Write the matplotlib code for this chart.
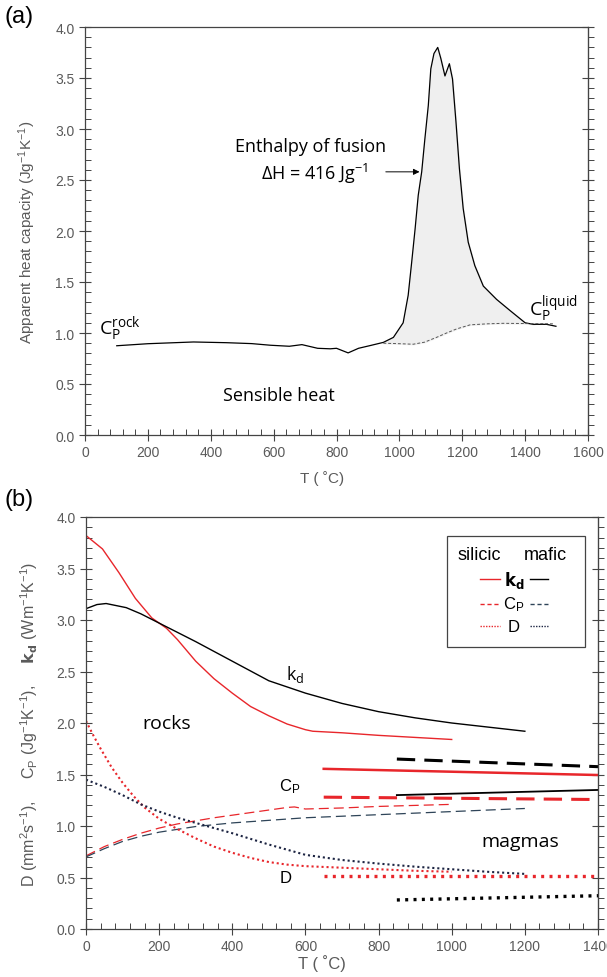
import numpy as np
import matplotlib
matplotlib.use("Agg")
import matplotlib.pyplot as plt
from matplotlib.ticker import MultipleLocator

plt.rcParams["font.family"] = ["Liberation Sans", "DejaVu Sans"]
plt.rcParams["mathtext.default"] = "regular"

# ---- panel (a): DSC curve ----
T_a = [101, 200, 345, 450, 530, 590, 650, 690, 740, 780, 800, 837, 870, 906, 949,
       981, 1012, 1028, 1039, 1050, 1060, 1071, 1081, 1092, 1100, 1110, 1122, 1132,
       1145, 1159, 1169, 1180, 1191, 1203, 1219, 1240, 1267, 1309, 1352, 1400, 1426,
       1468, 1498]
cp_a = [0.875, 0.895, 0.912, 0.905, 0.896, 0.88, 0.87, 0.886, 0.85, 0.845, 0.85, 0.805,
        0.85, 0.876, 0.908, 0.957, 1.10, 1.37, 1.69, 2.02, 2.35, 2.58, 2.90, 3.23, 3.59,
        3.74, 3.80, 3.69, 3.52, 3.64, 3.49, 3.07, 2.61, 2.22, 1.89, 1.66, 1.46, 1.33,
        1.22, 1.10, 1.085, 1.085, 1.066]
T_base = [949, 1000, 1044, 1080, 1118, 1150, 1182, 1225, 1280, 1330, 1490]
cp_base = [0.90, 0.895, 0.89, 0.91, 0.957, 1.0, 1.04, 1.08, 1.09, 1.095, 1.09]

# ---- panel (b): rocks ----
T_kd_sil = [0, 45, 90, 135, 180, 220, 250, 300, 350, 400, 450, 500, 550, 600, 620, 700, 800, 900, 1000]
kd_sil = [3.82, 3.69, 3.46, 3.21, 3.02, 2.92, 2.81, 2.60, 2.43, 2.29, 2.16, 2.07, 1.99, 1.935, 1.92, 1.905, 1.88, 1.86, 1.84]
T_kd_maf = [0, 30, 55, 110, 150, 200, 250, 300, 400, 500, 600, 700, 800, 900, 1000, 1100, 1200]
kd_maf = [3.11, 3.15, 3.16, 3.12, 3.06, 2.97, 2.88, 2.79, 2.60, 2.41, 2.29, 2.19, 2.11, 2.05, 2.00, 1.96, 1.92]
T_cp_sil = [0, 50, 100, 150, 200, 250, 300, 350, 400, 450, 500, 550, 570, 600, 650, 700, 800, 900, 1000]
cp_sil = [0.71, 0.80, 0.87, 0.93, 0.98, 1.02, 1.05, 1.08, 1.105, 1.13, 1.155, 1.18, 1.185, 1.165, 1.17, 1.175, 1.19, 1.20, 1.21]
T_cp_maf = [0, 50, 100, 150, 200, 300, 400, 500, 600, 700, 800, 900, 1000, 1100, 1200]
cp_maf = [0.70, 0.78, 0.85, 0.90, 0.94, 0.995, 1.03, 1.055, 1.08, 1.095, 1.11, 1.125, 1.14, 1.155, 1.17]
T_D_sil = [0, 20, 40, 70, 100, 130, 160, 200, 250, 300, 350, 400, 450, 500, 550, 600, 700, 800, 900, 1000]
D_sil = [2.02, 1.88, 1.75, 1.57, 1.42, 1.29, 1.18, 1.07, 0.97, 0.88, 0.80, 0.74, 0.69, 0.65, 0.625, 0.61, 0.595, 0.58, 0.565, 0.556]
T_D_maf = [0, 50, 100, 150, 200, 250, 300, 400, 500, 600, 700, 800, 900, 1000, 1100, 1200]
D_maf = [1.45, 1.38, 1.30, 1.21, 1.14, 1.08, 1.03, 0.93, 0.82, 0.72, 0.67, 0.635, 0.605, 0.58, 0.555, 0.535]

# ---- panel (b): magmas ----
T_mag_sil = [650, 1400]
T_mag_maf = [850, 1400]
kd_mag_sil = [1.555, 1.495]
kd_mag_maf = [1.30, 1.35]
cp_mag_sil = [1.28, 1.257]
cp_mag_maf = [1.65, 1.576]
D_mag_sil = [0.518, 0.518]
D_mag_maf = [0.282, 0.323]

RED = "#e8262b"
GRAY = "#5a5a5a"
SLATE = "#2e4458"
NAVY = "#1c2442"
ANN = ["Open Sans", "DejaVu Sans"]

fig = plt.figure(figsize=(6.07, 9.78), dpi=100)
ax1 = fig.add_axes([85 / 607, 1 - 436 / 978, 503 / 607, 408 / 978])
ax2 = fig.add_axes([86 / 607, 1 - 930 / 978, 512 / 607, 412 / 978])


def style(ax, xmax):
    for s in ax.spines.values():
        s.set_color("#444444")
        s.set_linewidth(0.9)
    ax.set_ylim(0, 4)
    ax.set_xlim(0, xmax)
    ax.yaxis.set_major_locator(MultipleLocator(0.5))
    ax.yaxis.set_minor_locator(MultipleLocator(0.1))
    ax.xaxis.set_major_locator(MultipleLocator(200))
    ax.xaxis.set_minor_locator(MultipleLocator(40))
    ax.yaxis.set_major_formatter(matplotlib.ticker.FormatStrFormatter("%.1f"))
    ax.xaxis.set_major_formatter(matplotlib.ticker.FormatStrFormatter("%d"))
    ax.tick_params(which="major", direction="inout", length=8, width=0.8,
                   color="#444444", labelcolor=GRAY, labelsize=10, top=False)
    ax.tick_params(which="minor", direction="in", length=4, width=0.7,
                   color="#444444", top=False)
    sec = ax.secondary_yaxis("right")
    sec.yaxis.set_major_locator(MultipleLocator(0.5))
    sec.yaxis.set_minor_locator(MultipleLocator(0.1))
    sec.tick_params(which="major", direction="inout", length=8, width=0.8,
                    color="#444444", labelright=False)
    sec.tick_params(which="minor", direction="out", length=4, width=0.7,
                    color="#444444")
    sec.spines["right"].set_color("#444444")


# ---- (a) ----
style(ax1, 1600)
ax1.plot(T_a, cp_a, color="black", lw=0.9)
ax1.plot(T_base, cp_base, color="#555555", lw=0.7, ls=(0, (3, 2)))
grid = np.linspace(949, 1430, 400)
ax1.fill_between(grid, np.interp(grid, T_base, cp_base), np.interp(grid, T_a, cp_a),
                 color="#efefef", zorder=0)
ax1.set_xlabel("T ( ˚C)", color=GRAY, fontsize=11)
ax1.xaxis.set_label_coords((322 - 85) / 503, -0.085)
ax1.set_ylabel("Apparent heat capacity (Jg$^{-1}$K$^{-1}$)", color=GRAY, fontsize=11)
ax1.yaxis.set_label_coords(-0.093, 0.5)

ax1.text(716, 2.83, "Enthalpy of fusion", family=ANN, fontsize=13, ha="center", va="center")
ax1.text(731, 2.57, "ΔH = 416 Jg$^{-1}$", family=ANN, fontsize=13, ha="center", va="center")
ax1.annotate("", xy=(1073, 2.58), xytext=(948, 2.58),
             arrowprops=dict(arrowstyle="-|>", color="black", lw=0.7, mutation_scale=9))
ax1.text(617, 0.39, "Sensible heat", family=ANN, fontsize=13, ha="center", va="center")
ax1.text(45, 1.05, "C$_P^{rock}$", family=ANN, fontsize=14, ha="left", va="center")
ax1.text(1412, 1.25, "C$_P^{liquid}$", family=ANN, fontsize=14, ha="left", va="center")

# ---- (b) ----
style(ax2, 1400)
ax2.plot(T_kd_sil, kd_sil, color=RED, lw=1.0)
ax2.plot(T_kd_maf, kd_maf, color="black", lw=1.0)
ax2.plot(T_cp_sil, cp_sil, color=RED, lw=0.9, ls=(0, (8, 4)))
ax2.plot(T_cp_maf, cp_maf, color=SLATE, lw=0.9, ls=(0, (8, 4)))
ax2.plot(T_D_sil, D_sil, color=RED, lw=1.5, ls=(0, (1, 1.4)))
ax2.plot(T_D_maf, D_maf, color=NAVY, lw=1.5, ls=(0, (1, 1.4)))

ax2.plot(T_mag_sil, kd_mag_sil, color=RED, lw=1.8)
ax2.plot(T_mag_maf, kd_mag_maf, color="black", lw=1.3)
ax2.plot(T_mag_sil, cp_mag_sil, color=RED, lw=2.2, ls=(0, (6, 3)))
ax2.plot(T_mag_maf, cp_mag_maf, color="black", lw=2.2, ls=(0, (6, 3)))
ax2.plot(T_mag_sil, D_mag_sil, color=RED, lw=2.4, ls=(0, (0.9, 1.6)))
ax2.plot(T_mag_maf, D_mag_maf, color="black", lw=2.4, ls=(0, (0.9, 1.6)))

ax2.set_xlabel("T ( ˚C)", color=GRAY, fontsize=12)
ax2.xaxis.set_label_coords((322 - 86) / 512, -0.06)
ax2.set_ylabel("D (mm$^2$s$^{-1}$),     C$_P$ (Jg$^{-1}$K$^{-1}$),     "
               "$\\mathbf{k_d}$ (Wm$^{-1}$K$^{-1}$)", color=GRAY, fontsize=11.5)
ax2.yaxis.set_label_coords(-0.09, 0.50)

ax2.text(221, 2.0, "rocks", family=ANN, fontsize=14, ha="center", va="center")
ax2.text(1187, 0.85, "magmas", family=ANN, fontsize=14, ha="center", va="center")
ax2.text(572, 2.48, "k$_d$", family=ANN, fontsize=13, ha="center", va="center")
ax2.text(558, 1.39, "C$_P$", fontsize=12, ha="center", va="center")
ax2.text(547, 0.50, "D", fontsize=12, ha="center", va="center")

# manual two-column legend
tr = ax2.transAxes
ax2.add_patch(plt.Rectangle((0.7045, 0.6837), 0.2701, 0.2709, transform=tr,
                            fill=False, ec="#444444", lw=0.9))
ax2.text(0.768, 0.908, "silicic", transform=tr, fontsize=13, ha="center", va="center")
ax2.text(0.897, 0.908, "mafic", transform=tr, fontsize=13, ha="center", va="center")
rows = [(0.8495, "$\\mathbf{k_d}$", "-", "-", RED, "black"),
        (0.789, "C$_P$", (0, (3, 2)), (0, (3, 2)), RED, SLATE),
        (0.7354, "D", (0, (1, 1)), (0, (1, 1)), RED, NAVY)]
for y, lab, ls1, ls2, c1, c2 in rows:
    ax2.plot([0.7695, 0.8086], [y, y], transform=tr, color=c1, lw=1.0, ls=ls1)
    ax2.plot([0.867, 0.902], [y, y], transform=tr, color=c2, lw=1.0, ls=ls2)
    ax2.text(0.836, y, lab, transform=tr, fontsize=12, ha="center", va="center")

fig.text(5 / 607, 1 - 17 / 978, "(a)", fontsize=17, va="center")
fig.text(5 / 607, 1 - 500 / 978, "(b)", fontsize=17, va="center")

fig.savefig("out.png", dpi=100)
